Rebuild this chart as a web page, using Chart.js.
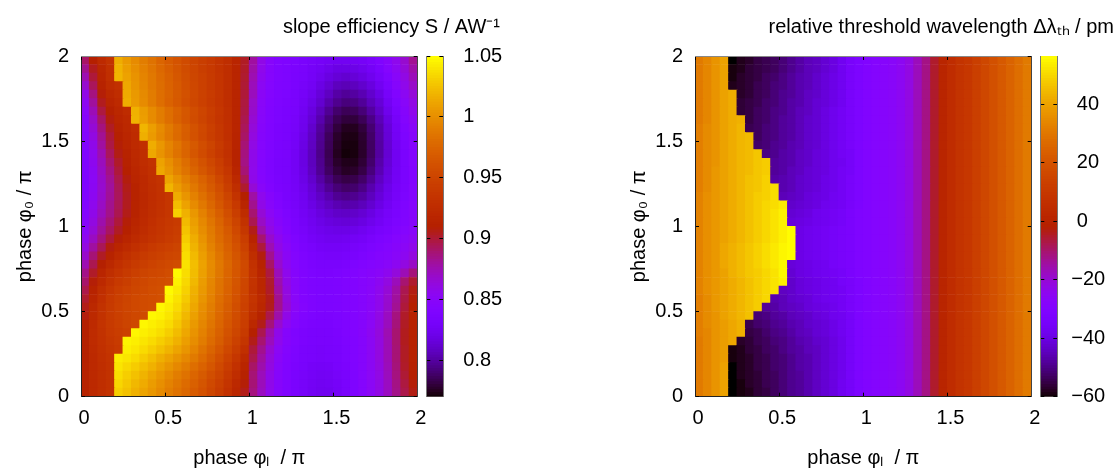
<!DOCTYPE html>
<html><head><meta charset="utf-8">
<style>html,body{margin:0;padding:0;background:#fff;width:1116px;height:470px;overflow:hidden}
.box{position:absolute;top:0;height:470px}canvas{display:block}</style>
<script src="https://cdn.jsdelivr.net/npm/chart.js@4"></script></head><body>
<div class="box" style="left:0;width:502px"><canvas id="a"></canvas></div>
<div class="box" style="left:420px;width:96px"><canvas id="ab"></canvas></div>
<div class="box" style="left:614px;width:502px"><canvas id="b"></canvas></div>
<div class="box" style="left:1034px;width:82px"><canvas id="bb"></canvas></div>
<script>
// slope efficiency S in 1/1000 A/W; rows run from phi0 = 1.975 down to 0.025
// slopeHead holds columns phiL = 0.025..0.975, slopeTail holds columns phiL = 1.025..1.975
const slopeHead = [
[892,911,924,933,1016,1007,999,991,984,976,969,963,956,950,945,940,934,928,918,904],
[884,905,920,931,1019,1009,1001,993,986,978,971,964,957,951,945,940,934,928,918,903],
[876,900,918,929,1020,1011,1003,995,988,980,973,966,959,952,947,941,935,928,918,902],
[868,894,914,926,931,1013,1004,996,988,981,974,967,960,953,947,941,935,928,918,901],
[860,887,909,921,927,1015,1006,998,990,982,975,968,961,954,948,942,936,928,917,900],
[855,881,905,917,924,1017,1007,999,990,982,974,967,960,953,947,941,935,928,917,899],
[851,875,899,912,920,926,1018,1008,999,990,982,974,966,958,951,944,937,929,917,898],
[848,870,892,908,917,923,1019,1009,999,990,982,973,965,957,950,943,936,929,917,896],
[846,866,887,904,914,921,927,1020,1009,999,989,980,971,962,954,946,938,930,917,894],
[844,862,883,900,912,919,925,1017,1007,997,988,979,970,961,953,945,938,929,916,892],
[843,859,880,898,909,917,924,930,1016,1005,995,986,976,967,958,950,941,932,916,889],
[841,857,876,894,907,915,922,928,1013,1003,994,984,975,965,956,948,939,931,915,887],
[840,856,873,890,903,913,921,927,933,1011,1001,991,981,971,962,953,944,933,914,886],
[840,854,871,886,900,911,919,925,931,1013,1004,994,985,975,966,957,947,937,918,889],
[839,853,869,883,897,908,917,923,929,934,1012,1002,992,983,974,964,953,941,923,895],
[840,854,868,881,895,906,915,922,928,933,1020,1008,998,988,978,968,958,945,928,902],
[841,855,869,882,894,905,914,921,927,932,937,1015,1004,993,983,973,962,950,934,910],
[843,857,871,884,895,905,914,921,927,932,937,1024,1011,999,988,977,966,954,940,918],
[845,859,873,885,896,906,915,922,928,933,937,1032,1018,1005,993,982,971,959,945,926],
[848,862,877,889,900,909,917,924,930,935,939,942,1022,1009,997,986,975,963,950,933],
[851,866,881,893,904,912,920,926,932,936,940,944,1026,1012,1000,989,978,967,954,938],
[856,872,887,900,909,917,924,929,934,938,942,946,1030,1016,1003,991,980,970,958,944],
[862,880,895,908,917,924,930,935,940,944,947,950,1034,1019,1006,994,983,972,961,948],
[869,889,904,915,924,931,936,941,945,948,951,953,1037,1022,1009,997,986,975,964,952],
[876,896,910,921,930,936,941,945,949,952,955,957,1039,1024,1011,999,988,977,966,955],
[885,903,917,928,935,941,946,950,953,955,958,1048,1037,1023,1010,998,987,976,965,954],
[891,909,922,933,940,945,950,953,956,958,960,1045,1035,1021,1008,996,985,975,964,952],
[897,915,928,937,944,949,952,955,958,960,1048,1042,1032,1018,1006,995,984,974,963,951],
[902,918,930,940,946,950,954,956,958,960,1046,1039,1029,1016,1004,993,982,972,961,949],
[906,921,933,941,947,951,954,956,958,1047,1043,1036,1025,1013,1001,991,980,970,959,947],
[908,923,933,941,946,950,953,955,1047,1045,1040,1032,1021,1010,999,989,978,968,957,946],
[910,924,934,941,946,950,953,1047,1044,1041,1036,1028,1017,1006,996,986,976,965,955,944],
[911,925,933,940,944,947,1047,1044,1041,1037,1031,1023,1013,1003,993,983,973,962,952,941],
[912,925,932,938,942,1046,1044,1040,1036,1031,1025,1018,1009,1000,990,980,970,959,948,936],
[912,924,931,936,940,1044,1041,1036,1031,1025,1019,1012,1004,995,985,975,965,954,943,930],
[912,922,929,934,1043,1040,1036,1030,1024,1017,1011,1004,997,989,980,970,960,949,937,923],
[913,922,928,933,1040,1035,1030,1024,1018,1011,1004,997,990,982,974,965,955,944,932,918],
[913,922,928,933,1037,1031,1025,1019,1012,1005,998,991,984,976,968,959,950,939,927,913],
[914,922,928,933,1034,1028,1021,1015,1008,1001,994,987,980,972,964,955,946,935,923,909],
[914,922,928,933,1031,1025,1018,1012,1005,998,991,984,977,969,961,952,943,932,920,906]
];
const slopeTail = [
[880,860,848,842,840,838,835,832,830,828,826,826,828,830,834,840,848,857,868,883],
[878,858,847,841,839,837,834,830,827,823,820,820,821,824,829,836,845,854,865,878],
[876,856,846,841,839,836,833,829,824,819,815,813,815,819,824,831,840,850,861,874],
[874,854,845,840,839,836,831,827,820,814,808,806,808,812,818,826,836,847,858,870],
[873,852,844,840,838,835,830,824,816,809,802,799,801,805,812,820,831,842,854,865],
[870,851,843,839,837,834,828,821,813,804,797,793,794,799,807,815,827,838,850,861],
[869,850,842,838,836,833,826,818,808,798,790,786,787,792,801,811,823,835,847,858],
[867,849,842,838,836,832,824,815,804,793,785,781,781,786,795,806,819,831,844,854],
[865,848,841,837,835,831,823,812,800,790,781,776,776,781,791,803,816,829,841,850],
[863,847,841,837,835,830,821,810,798,787,778,774,774,779,789,802,815,828,839,848],
[861,846,840,836,834,829,820,809,797,786,777,773,773,778,788,801,814,826,837,846],
[859,846,840,836,834,828,819,808,796,785,776,772,773,778,788,801,814,826,836,844],
[859,845,839,835,833,828,819,808,797,786,778,775,775,780,790,803,815,826,836,844],
[858,845,839,835,833,828,820,809,798,788,781,777,778,783,793,805,817,827,836,843],
[859,846,840,836,833,829,821,812,802,793,786,783,784,789,798,809,819,828,836,843],
[866,850,842,837,834,830,823,815,806,798,792,789,790,795,804,813,822,830,837,844],
[879,857,847,840,835,831,825,817,810,804,798,796,797,801,808,816,824,831,838,844],
[884,860,849,842,837,832,826,820,814,809,805,803,804,807,813,820,827,834,840,846],
[890,866,853,845,839,834,828,823,818,814,811,810,811,814,819,825,831,836,841,847],
[896,871,857,848,841,836,830,825,821,818,816,815,816,819,823,828,833,838,842,848],
[906,878,861,851,843,837,832,827,824,822,821,821,822,825,829,833,837,841,845,850],
[916,890,869,856,847,840,835,830,827,825,825,826,828,830,834,838,841,845,849,854],
[922,900,876,860,850,842,837,833,830,829,829,830,832,835,838,841,844,848,852,858],
[928,908,884,864,852,844,839,836,833,832,832,833,835,838,841,844,846,850,855,863],
[932,915,892,868,854,845,840,837,835,835,835,837,839,842,844,847,850,855,862,871],
[934,918,899,874,857,847,841,838,837,837,838,840,842,845,848,851,856,864,875,888],
[934,920,902,877,860,849,842,839,838,838,839,841,843,846,849,855,862,874,890,902],
[933,920,903,880,862,849,842,839,838,838,839,841,843,846,850,857,866,879,896,907],
[935,922,906,884,864,851,843,840,838,838,839,841,843,846,851,858,868,881,898,909],
[933,920,905,884,866,852,844,840,838,838,839,841,843,846,851,858,869,883,900,911],
[928,914,897,878,860,848,841,838,837,837,838,840,843,847,852,861,872,887,903,913],
[921,906,888,868,853,844,839,837,836,836,838,840,843,847,853,862,873,888,904,914],
[912,896,877,859,847,840,837,835,834,835,837,840,843,848,855,864,876,890,905,915],
[906,890,873,857,847,841,837,835,834,834,836,839,842,847,854,863,875,890,905,915],
[900,884,867,853,844,839,835,833,832,833,835,838,842,847,854,863,875,889,904,914],
[897,880,864,851,843,838,835,833,832,833,835,838,842,847,854,863,875,889,904,914],
[892,877,862,849,842,837,833,830,829,830,833,837,841,847,854,862,874,888,903,913],
[889,874,860,848,841,836,832,829,827,828,831,835,840,846,853,861,873,887,901,911],
[889,874,859,848,841,836,831,828,826,827,830,835,840,846,853,861,872,886,899,909],
[887,872,858,848,841,836,831,827,825,825,829,834,840,846,853,861,872,885,897,907]
];
// threshold wavelength in pm; columns 0-19 per row, columns 20-39 show no visible dependence on phi0
const thresholdHead = [
[31,34,37,40,-60,-58,-57,-55,-54,-53,-51,-49,-47,-45,-44,-42,-40,-37,-34,-32],
[31,34,37,40,-59,-58,-56,-55,-54,-53,-51,-49,-47,-45,-44,-42,-40,-37,-34,-32],
[31,34,37,40,-59,-57,-56,-55,-53,-52,-50,-48,-46,-45,-43,-41,-39,-37,-34,-32],
[31,34,37,40,-58,-57,-56,-54,-53,-51,-50,-48,-46,-45,-43,-41,-39,-37,-34,-32],
[31,34,37,40,42,-57,-56,-54,-53,-51,-49,-48,-46,-44,-43,-41,-39,-37,-34,-32],
[31,34,37,40,42,-56,-55,-54,-52,-51,-49,-47,-46,-44,-42,-41,-39,-37,-34,-32],
[31,34,37,40,42,-56,-55,-53,-52,-50,-49,-47,-45,-44,-42,-40,-38,-36,-34,-32],
[31,34,37,40,42,43,-55,-53,-52,-50,-48,-47,-45,-43,-42,-40,-38,-36,-34,-32],
[32,35,37,40,42,44,-54,-53,-51,-50,-48,-47,-45,-43,-42,-40,-38,-36,-34,-32],
[32,35,37,40,42,44,45,-53,-51,-50,-48,-47,-45,-43,-42,-40,-38,-36,-34,-32],
[32,35,37,40,42,44,45,-52,-51,-49,-48,-46,-45,-43,-42,-40,-38,-36,-34,-32],
[32,35,37,40,42,44,45,47,-50,-49,-47,-46,-44,-43,-41,-40,-38,-36,-35,-32],
[32,35,37,40,42,44,45,47,48,-48,-47,-46,-44,-43,-41,-40,-38,-37,-35,-32],
[32,35,38,40,42,44,45,47,48,-48,-47,-45,-44,-42,-41,-40,-38,-36,-35,-32],
[32,35,38,40,42,44,46,47,49,-47,-46,-45,-43,-42,-41,-39,-38,-36,-34,-32],
[32,35,38,40,42,44,46,47,49,51,-46,-45,-43,-42,-41,-39,-38,-36,-34,-32],
[33,36,38,40,42,44,46,48,49,51,-45,-44,-43,-41,-40,-39,-37,-36,-34,-32],
[33,36,38,40,42,44,46,48,50,51,53,-43,-42,-41,-40,-38,-37,-36,-34,-32],
[33,36,38,40,42,44,46,48,50,52,54,-42,-41,-40,-38,-37,-36,-35,-33,-31],
[33,36,38,40,42,44,46,48,50,52,54,-41,-40,-39,-38,-37,-36,-35,-33,-31],
[33,36,38,40,42,44,46,48,50,52,54,56,-39,-38,-37,-36,-35,-34,-33,-31],
[33,36,38,40,42,44,46,48,50,52,54,56,-39,-38,-37,-36,-35,-34,-33,-31],
[33,36,38,41,43,45,47,49,51,53,55,56,-39,-38,-37,-36,-35,-34,-33,-31],
[33,36,38,41,43,45,47,49,51,53,55,56,-39,-38,-37,-36,-35,-34,-33,-31],
[33,36,38,41,43,45,47,49,51,53,55,-41,-40,-39,-38,-37,-35,-34,-33,-31],
[33,36,38,40,43,45,47,48,50,52,55,-42,-40,-39,-38,-37,-36,-35,-33,-31],
[33,36,38,40,42,44,46,48,50,52,54,-43,-41,-40,-39,-38,-37,-35,-34,-32],
[33,36,38,40,42,44,46,48,50,52,-44,-43,-41,-40,-39,-38,-37,-36,-34,-32],
[32,35,38,40,42,44,46,48,50,-46,-45,-43,-42,-41,-39,-38,-37,-36,-34,-32],
[32,35,38,40,42,44,46,48,-48,-47,-45,-44,-43,-41,-40,-39,-38,-36,-34,-32],
[32,35,37,40,42,44,46,-51,-50,-48,-47,-45,-44,-43,-41,-40,-38,-37,-35,-32],
[32,35,37,39,41,43,-54,-52,-51,-49,-48,-46,-45,-43,-42,-41,-39,-37,-35,-32],
[32,34,37,39,41,43,-55,-54,-52,-50,-49,-47,-45,-44,-42,-41,-39,-37,-35,-32],
[31,34,37,39,41,-57,-56,-54,-53,-51,-50,-48,-46,-45,-43,-42,-40,-38,-35,-32],
[31,34,37,39,-59,-58,-56,-55,-53,-52,-50,-48,-47,-45,-44,-42,-40,-38,-35,-32],
[31,34,37,39,-59,-58,-57,-55,-54,-52,-51,-49,-47,-46,-44,-42,-40,-38,-35,-32],
[31,34,37,40,-60,-58,-57,-55,-54,-52,-51,-49,-47,-46,-44,-42,-40,-38,-35,-32],
[31,34,37,40,-60,-58,-57,-56,-54,-53,-51,-49,-48,-46,-44,-42,-40,-38,-35,-32],
[31,34,37,40,-60,-59,-57,-56,-54,-53,-51,-49,-48,-46,-44,-42,-40,-37,-35,-32],
[31,34,37,40,-60,-59,-58,-56,-55,-53,-51,-49,-48,-46,-44,-42,-40,-37,-35,-32]
];
const thresholdTail = [-30,-29,-28,-27,-25,-22,-17,-12,-5,1,5,8,10,13,16,19,22,25,28,31];
const phaseTicks = [0,0.5,1,1.5,2];
const phaseLabels = ['0','0.5','1','1.5','2'];
const slopeRange = [0.7705,1.05];
const slopeTicks = [0.8,0.85,0.9,0.95,1,1.05];
const slopeLabels = ['0.8','0.85','0.9','0.95','1','1.05'];
const thresholdRange = [-60,56.4];
const thresholdTicks = [-60,-40,-20,0,20,40];
const thresholdLabels = ['\u221260','\u221240','\u221220',' 0',' 20',' 40'];
const xTitle = 'phase \u03c6\u2097  / \u03c0';
const yTitle = 'phase \u03c6\u2080 / \u03c0';
const slopeTitle = 'slope efficiency S / AW\u207b\u00b9';
const thresholdTitle = 'relative threshold wavelength \u0394\u03bb\u209c\u2095 / pm';

const FONT = '"Liberation Sans", Arial, sans-serif';
const PLOT_TOP = 56, PLOT_BOTTOM = 396.7;
Chart.defaults.font.family = FONT;
Chart.defaults.color = '#000';

function palette(t){ // gnuplot rgbformulae 7,5,15
  t = Math.min(1,Math.max(0,t));
  const r=Math.sqrt(t), g=t*t*t, b=Math.max(0,Math.sin(2*Math.PI*t));
  return `rgb(${Math.round(r*255)},${Math.round(g*255)},${Math.round(b*255)})`;
}
function setTicks(values){ return s => { s.ticks = values.map(v=>({value:v})); }; }
function edge(extra){
  return Object.assign({type:'linear',min:0,max:2,offset:false,afterBuildTicks:setTicks(phaseTicks)},extra);
}
const inner = ()=>({drawOnChartArea:false,drawTicks:true,tickLength:-4,color:'#000',z:1,offset:false});
function heatmap(id,rows,range,title){
  const pts=[],cols=[];
  rows.forEach((row,j)=>row.forEach((v,i)=>{
    const x=(i+0.5)*0.05, y=1.975-j*0.05;
    pts.push({x,y:[y-0.025,y+0.025]});
    cols.push(palette((v-range[0])/(range[1]-range[0])));
  }));
  new Chart(document.getElementById(id),{
    type:'bar',
    data:{datasets:[{data:pts,backgroundColor:cols,barThickness:8.8,borderWidth:0,xAxisID:'x',yAxisID:'y'}]},
    options:{responsive:true,maintainAspectRatio:false,animation:false,
      layout:{padding:{right:2}},
      plugins:{legend:{display:false},tooltip:{enabled:false},
        title:{display:true,text:title,align:'end',font:{size:20,weight:'normal',lineHeight:1.2},padding:{top:15,bottom:1},color:'#000'}},
      scales:{
        x:edge({position:'bottom',afterFit:s=>{s.height=470-PLOT_BOTTOM;},
          grid:inner(),border:{color:'#222',z:1},
          ticks:{font:{size:20},padding:14,labelOffset:3,maxRotation:0,autoSkip:false,callback:(v,i)=>phaseLabels[i]},
          title:{display:true,text:xTitle,font:{size:20,lineHeight:1.2},padding:0}}),
        y:edge({position:'left',afterFit:s=>{s.width=81;},
          grid:inner(),border:{color:'#222',z:1},
          ticks:{font:{size:20},padding:16,autoSkip:false,callback:(v,i)=>phaseLabels[i]},
          title:{display:true,text:yTitle,font:{size:20,lineHeight:1.2},padding:{top:13,bottom:0}}}),
        x2:edge({axis:'x',position:'top',afterFit:s=>{s.height=16;},
          grid:inner(),border:{color:'#888',z:1},ticks:{display:false,autoSkip:false}}),
        y2:edge({axis:'y',position:'right',afterFit:s=>{s.width=82.3;},
          grid:inner(),border:{color:'#444',z:1},ticks:{display:false,autoSkip:false}})
      }}});
}
function colorbar(id,range,ticks,labels,leftW,rightW,pad){
  const pts=[],cols=[],N=128,step=(range[1]-range[0])/N;
  for(let k=0;k<N;k++){
    pts.push({y:range[0]+(k+0.5)*step,x:[0,1]});
    cols.push(palette((k+0.5)/N));
  }
  new Chart(document.getElementById(id),{
    type:'bar',
    data:{datasets:[{data:pts,backgroundColor:cols,barThickness:3.2,borderWidth:0,xAxisID:'x',yAxisID:'y'}]},
    options:{indexAxis:'y',responsive:true,maintainAspectRatio:false,animation:false,
      layout:{padding:{top:PLOT_TOP,bottom:470-PLOT_BOTTOM}},
      plugins:{legend:{display:false},tooltip:{enabled:false}},
      scales:{
        x:{type:'linear',min:0,max:1,display:false},
        y:{type:'linear',min:range[0],max:range[1],offset:false,position:'left',afterBuildTicks:setTicks(ticks),afterFit:s=>{s.width=leftW;},
          grid:inner(),border:{color:'#777',z:1},ticks:{display:false,autoSkip:false}},
        y2:{axis:'y',type:'linear',min:range[0],max:range[1],offset:false,position:'right',afterBuildTicks:setTicks(ticks),afterFit:s=>{s.width=rightW;},
          grid:inner(),border:{color:'#777',z:1},
          ticks:{font:{size:20},padding:pad,autoSkip:false,callback:(v,i)=>labels[i]}}
      }}});
}
heatmap('a',slopeHead.map((r,j)=>r.concat(slopeTail[j]).map(v=>v/1000)),slopeRange,slopeTitle);
heatmap('b',thresholdHead.map(r=>r.concat(thresholdTail)),thresholdRange,thresholdTitle);
colorbar('ab',slopeRange,slopeTicks,slopeLabels,6.3,72.7,24);
colorbar('bb',thresholdRange,thresholdTicks,thresholdLabels,6.3,58.7,18);
</script></body></html>
